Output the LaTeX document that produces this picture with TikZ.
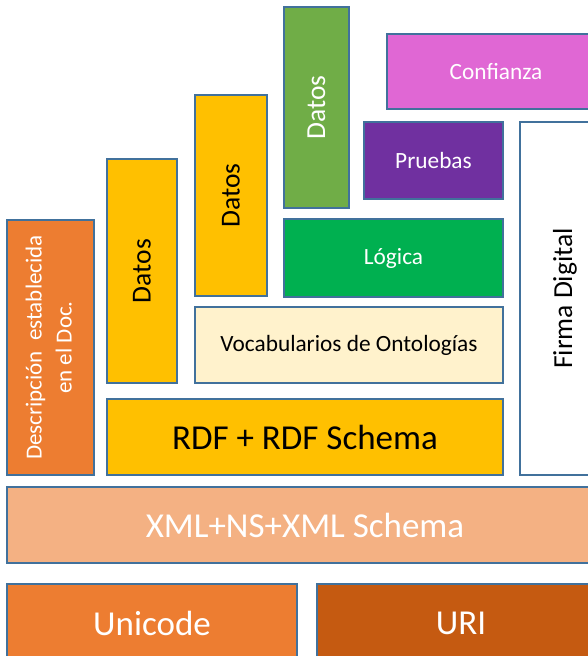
\documentclass[tikz,border=0pt]{standalone}
\usepackage{fontspec}
\setmainfont{Carlito}
\definecolor{bord}{HTML}{41719C}
\definecolor{cGreen}{HTML}{70AD47}
\definecolor{cPink}{HTML}{E067D4}
\definecolor{cPurple}{HTML}{7030A0}
\definecolor{cLogic}{HTML}{00B050}
\definecolor{cCream}{HTML}{FFF2CC}
\definecolor{cYellow}{HTML}{FFC000}
\definecolor{cOrange}{HTML}{ED7D31}
\definecolor{cPeach}{HTML}{F4B183}
\definecolor{cRust}{HTML}{C55A11}
\tikzset{
  layer/.style={draw=bord, line width=1.3pt, inner sep=0pt, align=center},
  big/.style={font=\fontsize{35}{41}\selectfont},
  mid/.style={font=\fontsize{27.5}{33}\selectfont},
  small/.style={font=\fontsize{23.3}{28}\selectfont},
  desc/.style={font=\fontsize{23}{30}\selectfont},
}
\begin{document}
\begin{tikzpicture}[x=1pt,y=-1pt]
\useasboundingbox (0,0) rectangle (587,656);
% top layers
\node[layer, fill=cGreen, text=white, mid, minimum width=65pt, minimum height=201pt] (datosC) at (316.5,107.5) {\rotatebox{90}{Datos}};
\node[layer, fill=cPink, text=white, small, minimum width=218pt, minimum height=75pt] (conf) at (496,71.5) {Confianza};
\node[layer, fill=cPurple, text=white, small, minimum width=139pt, minimum height=77pt] (prue) at (433.5,160.5) {Pruebas};
\node[layer, fill=white, text=black, mid, minimum width=90pt, minimum height=353pt] (firma) at (565,298.5) {\rotatebox{90}{Firma Digital}};
\node[layer, fill=cLogic, text=white, small, minimum width=219pt, minimum height=78pt] (logic) at (393.5,258) {Lógica};
\node[layer, fill=cYellow, text=black, mid, minimum width=72pt, minimum height=201pt] (datosB) at (231,195.5) {\rotatebox{90}{Datos}};
\node[layer, fill=cYellow, text=black, mid, minimum width=70pt, minimum height=224pt] (datosA) at (142,271) {\rotatebox{90}{Datos}};
\node[layer, fill=cCream, text=black, small, minimum width=308pt, minimum height=76pt] (vocab) at (349,345) {Vocabularios de Ontologías};
\node[layer, fill=cYellow, text=black, big, minimum width=396pt, minimum height=76pt] (rdf) at (305,437) {RDF + RDF Schema};
\node[layer, fill=cOrange, text=white, desc, minimum width=87pt, minimum height=255pt] (desc) at (50.5,347.5) {\rotatebox{90}{\begin{tabular}{c}Descripción\ \ establecida\\en el Doc.\end{tabular}}};
% base layers
\node[layer, fill=cPeach, text=white, big, minimum width=596pt, minimum height=76pt] (xml) at (305,525) {XML+NS+XML Schema};
\node[layer, fill=cOrange, text=white, big, minimum width=290pt, minimum height=78pt] (uni) at (152,623) {Unicode};
\node[layer, fill=cRust, text=white, big, minimum width=288pt, minimum height=78pt] (uri) at (461,623) {URI};
\end{tikzpicture}
\end{document}
